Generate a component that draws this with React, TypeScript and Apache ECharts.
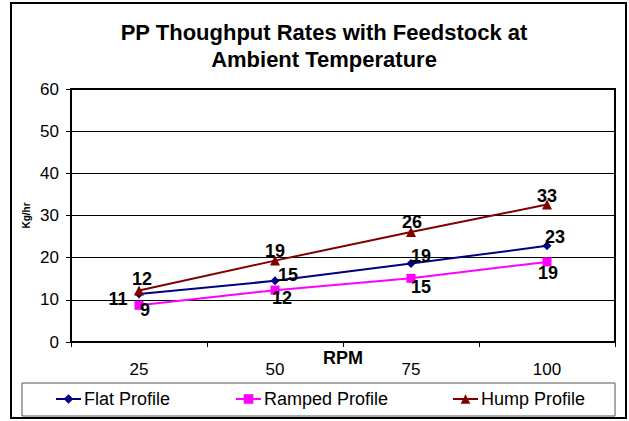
import React, { useEffect, useRef } from "react";
import * as echarts from "echarts";

const categories = ["25", "50", "75", "100"];
const flatProfile = [11.4, 14.5, 18.6, 22.8];
const rampedProfile = [8.7, 12.3, 15.1, 19.0];
const humpProfile = [12.2, 19.3, 26.1, 32.6];
const yTicks = { min: 0, max: 60, interval: 10 };

const FONT = "'Liberation Sans', Arial, Helvetica, sans-serif";

const flatOffsets = [[-21, 5], [13, -6], [10, -8], [8, -9]];
const rampedOffsets = [[6, 5], [7, 8], [10, 9], [1, 11]];
const humpOffsets = [[3, -12], [0, -10], [1, -10], [0, -9]];

function withLabels(values: number[], offsets: number[][]) {
  return values.map((v, i) => ({
    value: v,
    label: { offset: offsets[i] },
  }));
}

export default function App() {
  const ref = useRef<HTMLDivElement>(null);
  useEffect(() => {
    if (!ref.current) return;
    const chart = echarts.init(ref.current, null, { renderer: "svg" });
    const labelBase = {
      show: true,
      position: "inside",
      fontFamily: FONT,
      fontWeight: "bold",
      fontSize: 18,
      color: "#000",
      formatter: (p: any) => String(Math.round(p.value)),
    };
    const legendCommon = {
      bottom: 13,
      itemWidth: 25,
      itemHeight: 12,
      itemGap: 4,
      textStyle: { fontFamily: FONT, fontSize: 18, color: "#000", padding: [0, 0, 0, -2] },
      padding: 0,
    };
    chart.setOption({
      animation: false,
      backgroundColor: "#fff",
      title: {
        text: "PP Thoughput Rates with Feedstock at\nAmbient Temperature",
        left: 319,
        top: 14,
        textAlign: "center",
        textStyle: {
          fontFamily: FONT,
          fontWeight: "bold",
          fontSize: 22,
          lineHeight: 27,
          color: "#000",
        },
      },
      graphic: [
        {
          type: "rect",
          shape: { x: 11, y: 3, width: 615, height: 415 },
          style: { fill: "none", stroke: "#000", lineWidth: 2 },
          silent: true,
          z: -1,
        },
        {
          type: "rect",
          shape: { x: 22, y: 383, width: 593, height: 33 },
          style: { fill: "none", stroke: "#555", lineWidth: 1 },
          silent: true,
        },
      ],
      legend: [
        { ...legendCommon, left: 55, data: ["Flat Profile"] },
        { ...legendCommon, left: 235, data: ["Ramped Profile"] },
        { ...legendCommon, left: 452, data: ["Hump Profile"] },
      ],
      grid: {
        left: 71,
        right: 14,
        top: 89,
        bottom: 79,
        show: true,
        borderColor: "#000",
        borderWidth: 2,
        containLabel: false,
      },
      xAxis: {
        type: "category",
        data: categories,
        boundaryGap: true,
        name: "RPM",
        nameLocation: "middle",
        nameGap: 7,
        nameMoveOverlap: false,
        nameTextStyle: { fontFamily: FONT, fontWeight: "bold", fontSize: 18, color: "#000" },
        axisLine: { lineStyle: { color: "#000", width: 2 } },
        axisTick: { show: true, length: 5, lineStyle: { color: "#000", width: 1 } },
        axisLabel: { margin: 19, fontFamily: FONT, fontSize: 17, color: "#000" },
        splitLine: { show: false },
      },
      yAxis: {
        type: "value",
        min: yTicks.min,
        max: yTicks.max,
        interval: yTicks.interval,
        name: "Kg/hr",
        nameLocation: "middle",
        nameGap: 40,
        nameRotate: 90,
        nameMoveOverlap: false,
        nameTextStyle: {
          fontFamily: FONT,
          fontWeight: "bold",
          fontSize: 10,
          color: "#000",
        },
        axisLine: { show: true, lineStyle: { color: "#000", width: 2 } },
        axisTick: { show: true, length: 5, lineStyle: { color: "#000", width: 1 } },
        axisLabel: { margin: 12, fontFamily: FONT, fontSize: 17, color: "#000" },
        splitLine: { show: true, lineStyle: { color: "#000", width: 1 } },
      },
      series: [
        {
          name: "Flat Profile",
          type: "line",
          data: withLabels(flatProfile, flatOffsets),
          color: "#000080",
          lineStyle: { width: 2, color: "#000080" },
          symbol: "diamond",
          symbolSize: 9,
          itemStyle: { color: "#000080" },
          label: labelBase,
          z: 4,
        },
        {
          name: "Ramped Profile",
          type: "line",
          data: withLabels(rampedProfile, rampedOffsets),
          color: "#FF00FF",
          lineStyle: { width: 2, color: "#FF00FF" },
          symbol: "rect",
          symbolSize: 9,
          itemStyle: { color: "#FF00FF" },
          label: labelBase,
          z: 3,
        },
        {
          name: "Hump Profile",
          type: "line",
          data: withLabels(humpProfile, humpOffsets),
          color: "#800000",
          lineStyle: { width: 2, color: "#800000" },
          symbol: "triangle",
          symbolSize: 10,
          itemStyle: { color: "#800000" },
          label: labelBase,
          z: 5,
        },
      ],
    });
    return () => chart.dispose();
  }, []);
  return <div ref={ref} style={{ width: 629, height: 421, position: "absolute", left: 0, top: 0 }} />;
}
